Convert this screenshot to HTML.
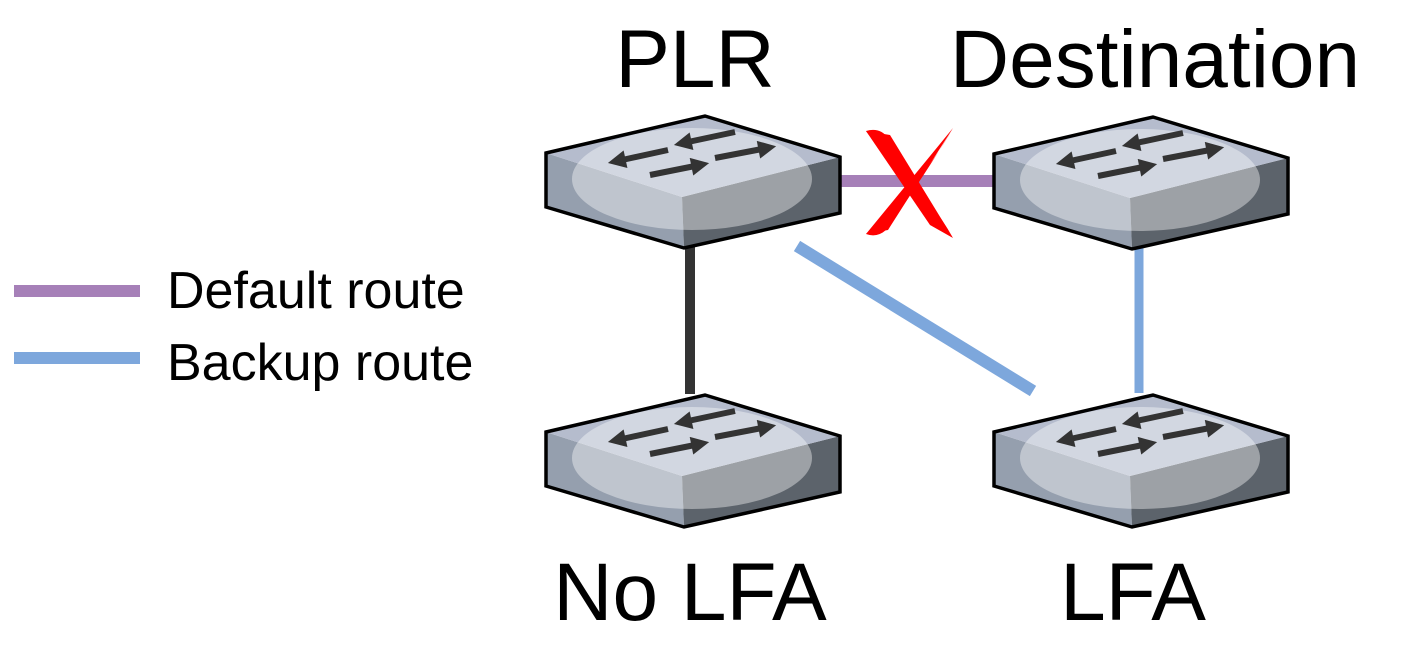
<!DOCTYPE html>
<html><head><meta charset="utf-8"><style>
html,body{margin:0;padding:0;background:#fff;width:1413px;height:650px;overflow:hidden}
svg text{font-family:"Liberation Sans",Arial,sans-serif;fill:#000}
</style></head><body>
<svg width="1413" height="650" viewBox="0 0 1413 650" xmlns="http://www.w3.org/2000/svg">
<defs>
<marker id="ah" viewBox="0 0 10 10" refX="2" refY="5" markerWidth="3.2" markerHeight="3" orient="auto" markerUnits="strokeWidth">
<path d="M0,0 L10,5 L0,10 z" fill="#333"/></marker>
<clipPath id="sc"><path d="M0,37 L159,0 L294,41 L294,97 L138,132 L0,91 z"/></clipPath>
<g id="sw">
<g clip-path="url(#sc)">
<path d="M0,37 L136,81 L138,132 L0,91 z" fill="#959fae"/>
<path d="M136,81 L294,41 L294,97 L138,132 z" fill="#5c636b"/>
<path d="M0,37 L159,0 L294,41 L136,81 z" fill="#b5bccd"/>
<ellipse cx="146" cy="63" rx="120" ry="51" fill="#fff" fill-opacity="0.4"/>
</g>
<path d="M0,37 L159,0 L294,41 L294,97 L138,132 L0,91 z" fill="none" stroke="#000" stroke-width="3.5" stroke-linejoin="miter"/>
<g stroke="#333" stroke-width="6" marker-end="url(#ah)">
<line x1="189" y1="16" x2="142" y2="26"/>
<line x1="122" y1="34" x2="76" y2="44"/>
<line x1="104" y1="59" x2="149" y2="50"/>
<line x1="169" y1="42" x2="216" y2="33"/>
</g>
</g>
</defs>

<line x1="690" y1="245" x2="690" y2="394" stroke="#333" stroke-width="10"/>
<line x1="797" y1="246" x2="1033" y2="391" stroke="#7da7dc" stroke-width="12"/>
<line x1="1139" y1="246" x2="1139" y2="393" stroke="#7da7dc" stroke-width="9"/>
<line x1="836" y1="181" x2="996" y2="181" stroke="#a680b8" stroke-width="12"/>

<use href="#sw" x="546" y="116"/>
<use href="#sw" x="994" y="117"/>
<use href="#sw" x="546" y="395"/>
<use href="#sw" x="994" y="395"/>

<path d="M866,131 Q880,127 888,138 L953,238 Q932,200 900,175 Q880,150 866,131 z" fill="#ff0000"/>
<path d="M953,128 Q935,160 913,185 Q890,215 866,234 Q877,238 886,230 Q925,175 953,128 z" fill="#ff0000"/>
<path d="M866,131 L890,135 L953,238 L930,225 z" fill="#ff0000"/>
<path d="M953,128 L888,230 L866,234 L935,150 z" fill="#ff0000"/>

<line x1="14" y1="291" x2="140" y2="291" stroke="#a680b8" stroke-width="12"/>
<line x1="14" y1="358" x2="140" y2="358" stroke="#7da7dc" stroke-width="12"/>
<text x="167" y="308" font-size="52">Default route</text>
<text x="167" y="380" font-size="52">Backup route</text>

<text x="695" y="87" font-size="82" text-anchor="middle">PLR</text>
<text x="1155" y="87" font-size="82" text-anchor="middle">Destination</text>
<text x="690" y="620" font-size="82" text-anchor="middle">No LFA</text>
<text x="1133" y="620" font-size="82" text-anchor="middle">LFA</text>
</svg>
</body></html>
